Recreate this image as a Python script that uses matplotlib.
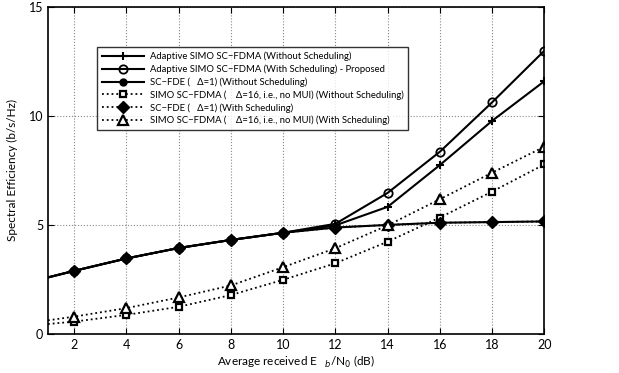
import matplotlib
matplotlib.use("Agg")
import matplotlib.pyplot as plt

plt.rcParams['font.family'] = ['Lato', 'DejaVu Sans']

snr = [1, 2, 4, 6, 8, 10, 12, 14, 16, 18, 20]
adaptive_no_sched = [2.59, 2.89, 3.46, 3.94, 4.31, 4.64, 4.98, 5.83, 7.75, 9.78, 11.6]
adaptive_sched = [2.59, 2.89, 3.46, 3.94, 4.31, 4.64, 5.05, 6.47, 8.36, 10.63, 13.0]
scfde_no_sched = [2.59, 2.89, 3.46, 3.94, 4.31, 4.64, 4.88, 5.0, 5.1, 5.13, 5.16]
simo_no_sched = [0.45, 0.56, 0.87, 1.24, 1.78, 2.48, 3.24, 4.23, 5.34, 6.53, 7.78]
scfde_sched = [2.59, 2.89, 3.46, 3.94, 4.31, 4.64, 4.88, 5.0, 5.1, 5.13, 5.16]
simo_sched = [0.62, 0.79, 1.18, 1.67, 2.22, 3.06, 3.93, 4.98, 6.18, 7.4, 8.59]

labels = [
    "Adaptive SIMO SC\u2212FDMA (Without Scheduling)",
    "Adaptive SIMO SC\u2212FDMA (With Scheduling) - Proposed",
    "SC\u2212FDE (   \u0394=1) (Without Scheduling)",
    "SIMO SC\u2212FDMA (    \u0394=16, i.e., no MUI) (Without Scheduling)",
    "SC\u2212FDE (   \u0394=1) (With Scheduling)",
    "SIMO SC\u2212FDMA (    \u0394=16, i.e., no MUI) (With Scheduling)",
]
xticks = [2, 4, 6, 8, 10, 12, 14, 16, 18, 20]
yticks = [0, 5, 10, 15]

fig = plt.figure(figsize=(6.19, 3.73), dpi=100)
ax = fig.add_axes([0.0775, 0.105, 0.802, 0.876])

me = slice(1, None)
ax.plot(snr, adaptive_no_sched, '-', color='k', lw=1.5, marker='+', ms=6, mew=1.5, markevery=me, label=labels[0])
ax.plot(snr, adaptive_sched, '-', color='k', lw=1.5, marker='o', ms=6, mfc='none', mew=1.3, markevery=me, label=labels[1])
ax.plot(snr, scfde_no_sched, '-', color='k', lw=1.5, marker='o', ms=5, mfc='k', markevery=me, label=labels[2])
ax.plot(snr, simo_no_sched, ':', color='k', lw=1.3, marker='s', ms=5, mfc='white', mew=1.6, markevery=me, label=labels[3])
ax.plot(snr, scfde_sched, ':', color='k', lw=1.3, marker='D', ms=6.5, mfc='k', markevery=me, label=labels[4])
ax.plot(snr, simo_sched, ':', color='k', lw=1.3, marker='^', ms=6.5, mfc='white', mew=1.6, markevery=me, label=labels[5])

ax.set_xlim(1, 20)
ax.set_ylim(0, 15)
ax.set_xticks(xticks)
ax.set_yticks(yticks)
ax.tick_params(direction='in', labelsize=9, length=4, top=True, right=True)
ax.grid(True, linestyle=':', color='#888888', lw=0.8)
for s in ax.spines.values():
    s.set_linewidth(1.2)

ax.set_xlabel("Average received E$_{\\ \\ \\ b}$/N$_0$ (dB)", fontsize=8.5, labelpad=2)
ax.set_ylabel("Spectral Efficiency (b/s/Hz)", fontsize=8.5, labelpad=8)

leg = ax.legend(loc='upper left', bbox_to_anchor=(0.099, 0.878), fontsize=6.8,
                handlelength=4.5, frameon=True, fancybox=False, edgecolor='k',
                borderpad=0.5, labelspacing=0.35, handletextpad=0.6, borderaxespad=0)
leg.get_frame().set_linewidth(1.0)

fig.savefig("out.png", dpi=100)
